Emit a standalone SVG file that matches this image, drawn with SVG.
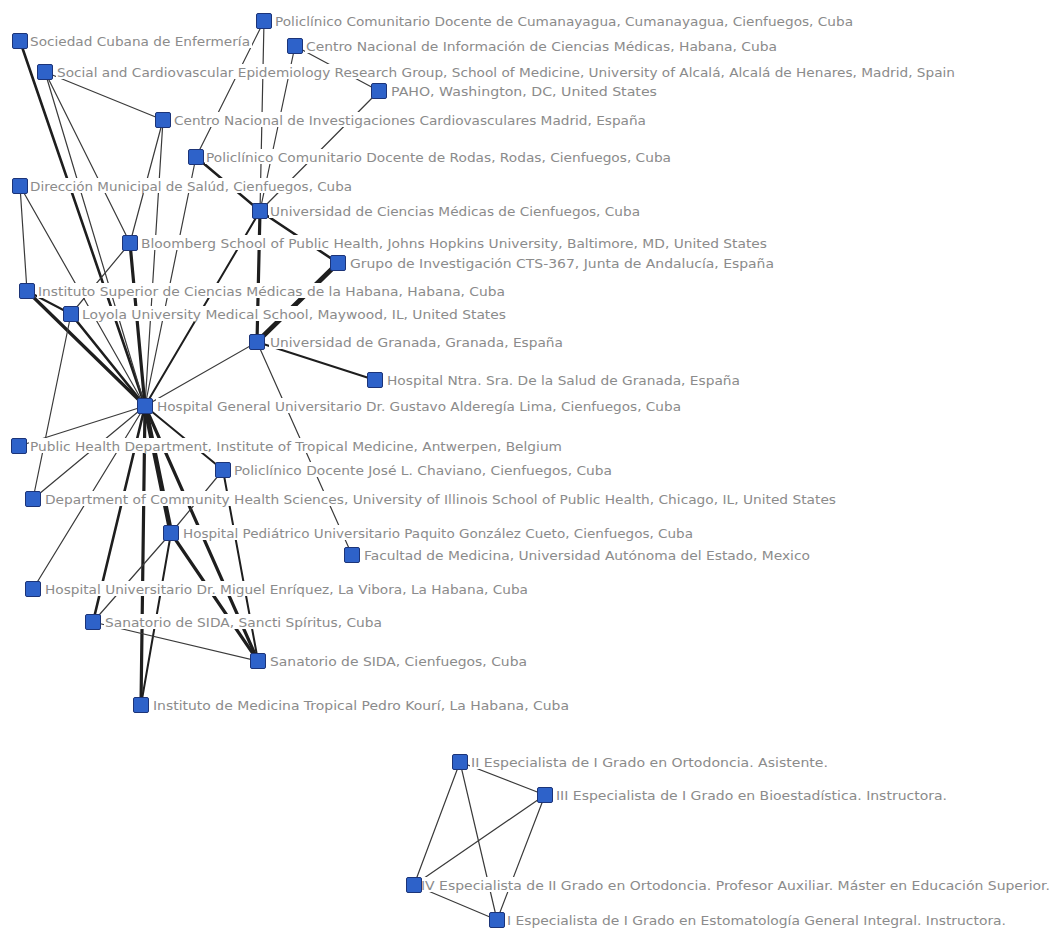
<svg xmlns="http://www.w3.org/2000/svg" width="1054" height="929" viewBox="0 0 1054 929">
<style>
text{font-family:"DejaVu Sans","Liberation Sans",sans-serif;font-size:12.5px;fill:#8b8b8b}
.bg{fill:#fff}
.sq{fill:#2e62c9;stroke:#1c3478;stroke-width:1}
line{stroke:#1e1e1e;stroke-linecap:round}
.e1{stroke:#3a3a3a;stroke-width:1.2}
.e2{stroke-width:2}
.e3{stroke-width:2.6}
.e4{stroke-width:3.2}
.e5{stroke-width:4.8}
</style>
<rect width="1054" height="929" fill="#fff"/>
<g id="connectors">
<line class="e3" x1="20" y1="41" x2="145" y2="406"/>
<line class="e1" x1="45" y1="72" x2="163" y2="120"/>
<line class="e1" x1="45" y1="72" x2="145" y2="406"/>
<line class="e1" x1="45" y1="72" x2="130" y2="243"/>
<line class="e1" x1="163" y1="120" x2="130" y2="243"/>
<line class="e1" x1="163" y1="120" x2="145" y2="406"/>
<line class="e1" x1="264" y1="21" x2="196" y2="157"/>
<line class="e1" x1="264" y1="21" x2="260" y2="211"/>
<line class="e1" x1="295" y1="46" x2="379" y2="91"/>
<line class="e1" x1="295" y1="46" x2="260" y2="211"/>
<line class="e1" x1="379" y1="91" x2="260" y2="211"/>
<line class="e3" x1="196" y1="157" x2="260" y2="211"/>
<line class="e1" x1="196" y1="157" x2="145" y2="406"/>
<line class="e1" x1="20" y1="186" x2="27" y2="291"/>
<line class="e1" x1="20" y1="186" x2="145" y2="406"/>
<line class="e3" x1="260" y1="211" x2="338" y2="263"/>
<line class="e4" x1="260" y1="211" x2="257" y2="342"/>
<line class="e2" x1="260" y1="211" x2="145" y2="406"/>
<line class="e5" x1="338" y1="263" x2="257" y2="342"/>
<line class="e2" x1="257" y1="342" x2="375" y2="380"/>
<line class="e1" x1="257" y1="342" x2="145" y2="406"/>
<line class="e1" x1="257" y1="342" x2="352" y2="555"/>
<line class="e4" x1="130" y1="243" x2="145" y2="406"/>
<line class="e1" x1="130" y1="243" x2="71" y2="314"/>
<line class="e4" x1="27" y1="291" x2="145" y2="406"/>
<line class="e2" x1="27" y1="291" x2="71" y2="314"/>
<line class="e3" x1="71" y1="314" x2="145" y2="406"/>
<line class="e1" x1="71" y1="314" x2="33" y2="499"/>
<line class="e1" x1="145" y1="406" x2="19" y2="446"/>
<line class="e1" x1="145" y1="406" x2="33" y2="499"/>
<line class="e1" x1="145" y1="406" x2="33" y2="589"/>
<line class="e3" x1="145" y1="406" x2="93" y2="622"/>
<line class="e4" x1="145" y1="406" x2="141" y2="705"/>
<line class="e5" x1="145" y1="406" x2="171" y2="533"/>
<line class="e4" x1="145" y1="406" x2="258" y2="661"/>
<line class="e2" x1="145" y1="406" x2="223" y2="470"/>
<line class="e2" x1="223" y1="470" x2="258" y2="661"/>
<line class="e1" x1="223" y1="470" x2="171" y2="533"/>
<line class="e1" x1="171" y1="533" x2="93" y2="622"/>
<line class="e2" x1="171" y1="533" x2="141" y2="705"/>
<line class="e4" x1="171" y1="533" x2="258" y2="661"/>
<line class="e1" x1="93" y1="622" x2="258" y2="661"/>
<line class="e1" x1="460" y1="762" x2="545" y2="795"/>
<line class="e1" x1="460" y1="762" x2="414" y2="885"/>
<line class="e1" x1="460" y1="762" x2="497" y2="920"/>
<line class="e1" x1="545" y1="795" x2="414" y2="885"/>
<line class="e1" x1="545" y1="795" x2="497" y2="920"/>
<line class="e1" x1="414" y1="885" x2="497" y2="920"/>
</g>
<g id="n1"><rect class="bg" x="29" y="33" width="223" height="15"/><text x="30" y="46" textLength="220" lengthAdjust="spacingAndGlyphs">Sociedad Cubana de Enfermería</text><rect class="sq" x="12.5" y="33.5" width="15" height="15" rx="1.5"/></g>
<g id="n2"><rect class="bg" x="274" y="13" width="581" height="15"/><text x="275" y="26" textLength="578" lengthAdjust="spacingAndGlyphs">Policlínico Comunitario Docente de Cumanayagua, Cumanayagua, Cienfuegos, Cuba</text><rect class="sq" x="256.5" y="13.5" width="15" height="15" rx="1.5"/></g>
<g id="n3"><rect class="bg" x="305" y="38" width="474" height="15"/><text x="306" y="51" textLength="471" lengthAdjust="spacingAndGlyphs">Centro Nacional de Información de Ciencias Médicas, Habana, Cuba</text><rect class="sq" x="287.5" y="38.5" width="15" height="15" rx="1.5"/></g>
<g id="n4"><rect class="bg" x="56" y="64" width="901" height="15"/><text x="57" y="77" textLength="898" lengthAdjust="spacingAndGlyphs">Social and Cardiovascular Epidemiology Research Group, School of Medicine, University of Alcalá, Alcalá de Henares, Madrid, Spain</text><rect class="sq" x="37.5" y="64.5" width="15" height="15" rx="1.5"/></g>
<g id="n5"><rect class="bg" x="390" y="83" width="269" height="15"/><text x="391" y="96" textLength="266" lengthAdjust="spacingAndGlyphs">PAHO, Washington, DC, United States</text><rect class="sq" x="371.5" y="83.5" width="15" height="15" rx="1.5"/></g>
<g id="n6"><rect class="bg" x="173" y="112" width="475" height="15"/><text x="174" y="125" textLength="472" lengthAdjust="spacingAndGlyphs">Centro Nacional de Investigaciones Cardiovasculares Madrid, España</text><rect class="sq" x="155.5" y="112.5" width="15" height="15" rx="1.5"/></g>
<g id="n7"><rect class="bg" x="205" y="149" width="468" height="15"/><text x="206" y="162" textLength="465" lengthAdjust="spacingAndGlyphs">Policlínico Comunitario Docente de Rodas, Rodas, Cienfuegos, Cuba</text><rect class="sq" x="188.5" y="149.5" width="15" height="15" rx="1.5"/></g>
<g id="n8"><rect class="bg" x="29" y="178" width="325" height="15"/><text x="30" y="191" textLength="322" lengthAdjust="spacingAndGlyphs">Dirección Municipal de Salúd, Cienfuegos, Cuba</text><rect class="sq" x="12.5" y="178.5" width="15" height="15" rx="1.5"/></g>
<g id="n9"><rect class="bg" x="269" y="203" width="373" height="15"/><text x="270" y="216" textLength="370" lengthAdjust="spacingAndGlyphs">Universidad de Ciencias Médicas de Cienfuegos, Cuba</text><rect class="sq" x="252.5" y="203.5" width="15" height="15" rx="1.5"/></g>
<g id="n10"><rect class="bg" x="140" y="235" width="629" height="15"/><text x="141" y="248" textLength="626" lengthAdjust="spacingAndGlyphs">Bloomberg School of Public Health, Johns Hopkins University, Baltimore, MD, United States</text><rect class="sq" x="122.5" y="235.5" width="15" height="15" rx="1.5"/></g>
<g id="n11"><rect class="bg" x="349" y="255" width="427" height="15"/><text x="350" y="268" textLength="424" lengthAdjust="spacingAndGlyphs">Grupo de Investigación CTS-367, Junta de Andalucía, España</text><rect class="sq" x="330.5" y="255.5" width="15" height="15" rx="1.5"/></g>
<g id="n12"><rect class="bg" x="37" y="283" width="470" height="15"/><text x="38" y="296" textLength="467" lengthAdjust="spacingAndGlyphs">Instituto Superior de Ciencias Médicas de la Habana, Habana, Cuba</text><rect class="sq" x="19.5" y="283.5" width="15" height="15" rx="1.5"/></g>
<g id="n13"><rect class="bg" x="81" y="306" width="427" height="15"/><text x="82" y="319" textLength="424" lengthAdjust="spacingAndGlyphs">Loyola University Medical School, Maywood, IL, United States</text><rect class="sq" x="63.5" y="306.5" width="15" height="15" rx="1.5"/></g>
<g id="n14"><rect class="bg" x="269" y="334" width="296" height="15"/><text x="270" y="347" textLength="293" lengthAdjust="spacingAndGlyphs">Universidad de Granada, Granada, España</text><rect class="sq" x="249.5" y="334.5" width="15" height="15" rx="1.5"/></g>
<g id="n15"><rect class="bg" x="386" y="372" width="356" height="15"/><text x="387" y="385" textLength="353" lengthAdjust="spacingAndGlyphs">Hospital Ntra. Sra. De la Salud de Granada, España</text><rect class="sq" x="367.5" y="372.5" width="15" height="15" rx="1.5"/></g>
<g id="n16"><rect class="bg" x="156" y="398" width="527" height="15"/><text x="157" y="411" textLength="524" lengthAdjust="spacingAndGlyphs">Hospital General Universitario Dr. Gustavo Alderegía Lima, Cienfuegos, Cuba</text><rect class="sq" x="137.5" y="398.5" width="15" height="15" rx="1.5"/></g>
<g id="n17"><rect class="bg" x="29" y="438" width="535" height="15"/><text x="30" y="451" textLength="532" lengthAdjust="spacingAndGlyphs">Public Health Department, Institute of Tropical Medicine, Antwerpen, Belgium</text><rect class="sq" x="11.5" y="438.5" width="15" height="15" rx="1.5"/></g>
<g id="n18"><rect class="bg" x="233" y="462" width="381" height="15"/><text x="234" y="475" textLength="378" lengthAdjust="spacingAndGlyphs">Policlínico Docente José L. Chaviano, Cienfuegos, Cuba</text><rect class="sq" x="215.5" y="462.5" width="15" height="15" rx="1.5"/></g>
<g id="n19"><rect class="bg" x="44" y="491" width="794" height="15"/><text x="45" y="504" textLength="791" lengthAdjust="spacingAndGlyphs">Department of Community Health Sciences, University of Illinois School of Public Health, Chicago, IL, United States</text><rect class="sq" x="25.5" y="491.5" width="15" height="15" rx="1.5"/></g>
<g id="n20"><rect class="bg" x="182" y="525" width="513" height="15"/><text x="183" y="538" textLength="510" lengthAdjust="spacingAndGlyphs">Hospital Pediátrico Universitario Paquito González Cueto, Cienfuegos, Cuba</text><rect class="sq" x="163.5" y="525.5" width="15" height="15" rx="1.5"/></g>
<g id="n21"><rect class="bg" x="363" y="547" width="449" height="15"/><text x="364" y="560" textLength="446" lengthAdjust="spacingAndGlyphs">Facultad de Medicina, Universidad Autónoma del Estado, Mexico</text><rect class="sq" x="344.5" y="547.5" width="15" height="15" rx="1.5"/></g>
<g id="n22"><rect class="bg" x="44" y="581" width="486" height="15"/><text x="45" y="594" textLength="483" lengthAdjust="spacingAndGlyphs">Hospital Universitario Dr. Miguel Enríquez, La Vibora, La Habana, Cuba</text><rect class="sq" x="25.5" y="581.5" width="15" height="15" rx="1.5"/></g>
<g id="n23"><rect class="bg" x="104" y="614" width="280" height="15"/><text x="105" y="627" textLength="277" lengthAdjust="spacingAndGlyphs">Sanatorio de SIDA, Sancti Spíritus, Cuba</text><rect class="sq" x="85.5" y="614.5" width="15" height="15" rx="1.5"/></g>
<g id="n24"><rect class="bg" x="269" y="653" width="260" height="15"/><text x="270" y="666" textLength="257" lengthAdjust="spacingAndGlyphs">Sanatorio de SIDA, Cienfuegos, Cuba</text><rect class="sq" x="250.5" y="653.5" width="15" height="15" rx="1.5"/></g>
<g id="n25"><rect class="bg" x="152" y="697" width="419" height="15"/><text x="153" y="710" textLength="416" lengthAdjust="spacingAndGlyphs">Instituto de Medicina Tropical Pedro Kourí, La Habana, Cuba</text><rect class="sq" x="133.5" y="697.5" width="15" height="15" rx="1.5"/></g>
<g id="n26"><rect class="bg" x="470" y="754" width="360" height="15"/><text x="471" y="767" textLength="357" lengthAdjust="spacingAndGlyphs">II Especialista de I Grado en Ortodoncia. Asistente.</text><rect class="sq" x="452.5" y="754.5" width="15" height="15" rx="1.5"/></g>
<g id="n27"><rect class="bg" x="555" y="787" width="394" height="15"/><text x="556" y="800" textLength="391" lengthAdjust="spacingAndGlyphs">III Especialista de I Grado en Bioestadística. Instructora.</text><rect class="sq" x="537.5" y="787.5" width="15" height="15" rx="1.5"/></g>
<g id="n28"><rect class="bg" x="420" y="877" width="632" height="15"/><text x="421" y="890" textLength="629" lengthAdjust="spacingAndGlyphs">IV Especialista de II Grado en Ortodoncia. Profesor Auxiliar. Máster en Educación Superior.</text><rect class="sq" x="406.5" y="877.5" width="15" height="15" rx="1.5"/></g>
<g id="n29"><rect class="bg" x="506" y="912" width="502" height="15"/><text x="507" y="925" textLength="499" lengthAdjust="spacingAndGlyphs">I Especialista de I Grado en Estomatología General Integral. Instructora.</text><rect class="sq" x="489.5" y="912.5" width="15" height="15" rx="1.5"/></g>
</svg>
